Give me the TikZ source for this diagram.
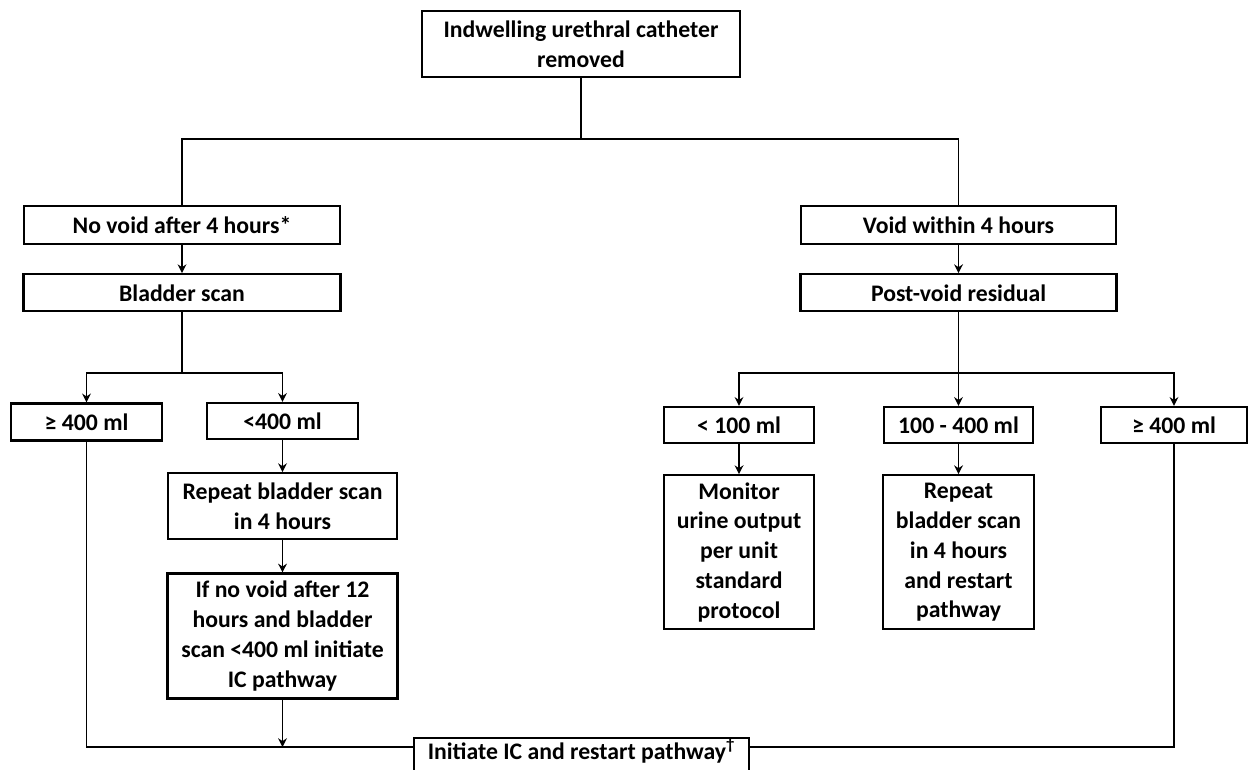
\documentclass[tikz,border=0pt]{standalone}
\usepackage{fontspec}
\setmainfont{Carlito}
\usepackage{tikz}
\usetikzlibrary{arrows.meta, positioning}

\begin{document}
\begin{tikzpicture}
\tikzstyle{flowbox} = [rectangle, draw, line width=1.3pt, align=center, inner sep=2pt, font=\fontsize{13.5}{17}\selectfont\bfseries]
\tikzstyle{line} = [line width=1.1pt]
\tikzstyle{arrow} = [line width=1.1pt, ->, >={Stealth[length=5pt,width=5pt]}]

\useasboundingbox (0,0) rectangle (24.98,-15.38);

% top of the pathway
\node (removed) [flowbox, minimum width=6.36cm, minimum height=1.32cm] at (11.62,-0.88) {Indwelling urethral catheter\\removed};

\node (novoid) [flowbox, minimum width=6.32cm, minimum height=0.76cm] at (3.64,-4.5) {No void after 4 hours*};
\node (voided) [flowbox, minimum width=6.3cm, minimum height=0.76cm] at (19.17,-4.5) {Void within 4 hours};
\node (bscan) [flowbox, minimum width=6.34cm, minimum height=0.74cm, below=0.56cm of novoid] {Bladder scan};
\node (pvr) [flowbox, minimum width=6.32cm, minimum height=0.74cm, below=0.56cm of voided] {Post-void residual};

% left branch
\node (highL) [flowbox, minimum width=3.02cm, minimum height=0.74cm] at (1.73,-8.44) {≥ 400 ml};
\node (lowL) [flowbox, minimum width=3.02cm, minimum height=0.72cm] at (5.65,-8.42) {<400 ml};
\node (rescan) [flowbox, minimum width=4.58cm, minimum height=1.32cm, below=0.64cm of lowL] {Repeat bladder scan\\in 4 hours};
\node (twelve) [flowbox, minimum width=4.6cm, minimum height=2.5cm, below=0.64cm of rescan] {If no void after 12\\hours and bladder\\scan <400 ml initiate\\IC pathway};

% right branch
\node (lowR) [flowbox, minimum width=3cm, minimum height=0.72cm] at (14.78,-8.5) {< 100 ml};
\node (midR) [flowbox, minimum width=2.98cm, minimum height=0.72cm] at (19.17,-8.5) {100 - 400 ml};
\node (highR) [flowbox, minimum width=2.92cm, minimum height=0.72cm] at (23.48,-8.5) {≥ 400 ml};
\node (monitor) [flowbox, minimum width=3cm, minimum height=3.08cm, below=0.6cm of lowR] {Monitor\\urine output\\per unit\\standard\\protocol};
\node (restart) [flowbox, minimum width=3.02cm, minimum height=3.08cm, below=0.6cm of midR] {Repeat\\bladder scan\\in 4 hours\\and restart\\pathway};

% bottom, runs past the page edge
\node (initiate) [flowbox, minimum width=6.7cm, text height=0.35cm, text depth=0.4cm, anchor=north] at (11.63,-14.74) {Initiate IC and restart pathway\textsuperscript{†}};

\coordinate (split) at (0,-2.78);
\coordinate (fork) at (0,-7.46);
\coordinate (join) at ([yshift=-0.2cm]initiate.north);

\draw [line] (removed.south) -- (removed.south |- split);
\draw [line] (novoid.north) |- (voided.north |- split) -- (voided.north);
\draw [arrow] (novoid) -- (bscan);
\draw [arrow] (voided) -- (pvr);

\draw [line] (bscan.south) -- (bscan.south |- fork);
\draw [arrow] (bscan.south |- fork) -| (highL.north);
\draw [arrow] (bscan.south |- fork) -| (lowL.north);
\draw [arrow] (lowL) -- (rescan);
\draw [arrow] (rescan) -- (twelve);

\draw [arrow] (pvr) -- (midR);
\draw [arrow] (pvr.south |- fork) -| (lowR.north);
\draw [arrow] (pvr.south |- fork) -| (highR.north);
\draw [arrow] (lowR) -- (monitor);
\draw [arrow] (midR) -- (restart);

\draw [line] (highL.south) |- (initiate.west |- join);
\draw [line] (highR.south) |- (initiate.east |- join);
\draw [arrow] (twelve.south) -- (twelve.south |- join);

\end{tikzpicture}
\end{document}
